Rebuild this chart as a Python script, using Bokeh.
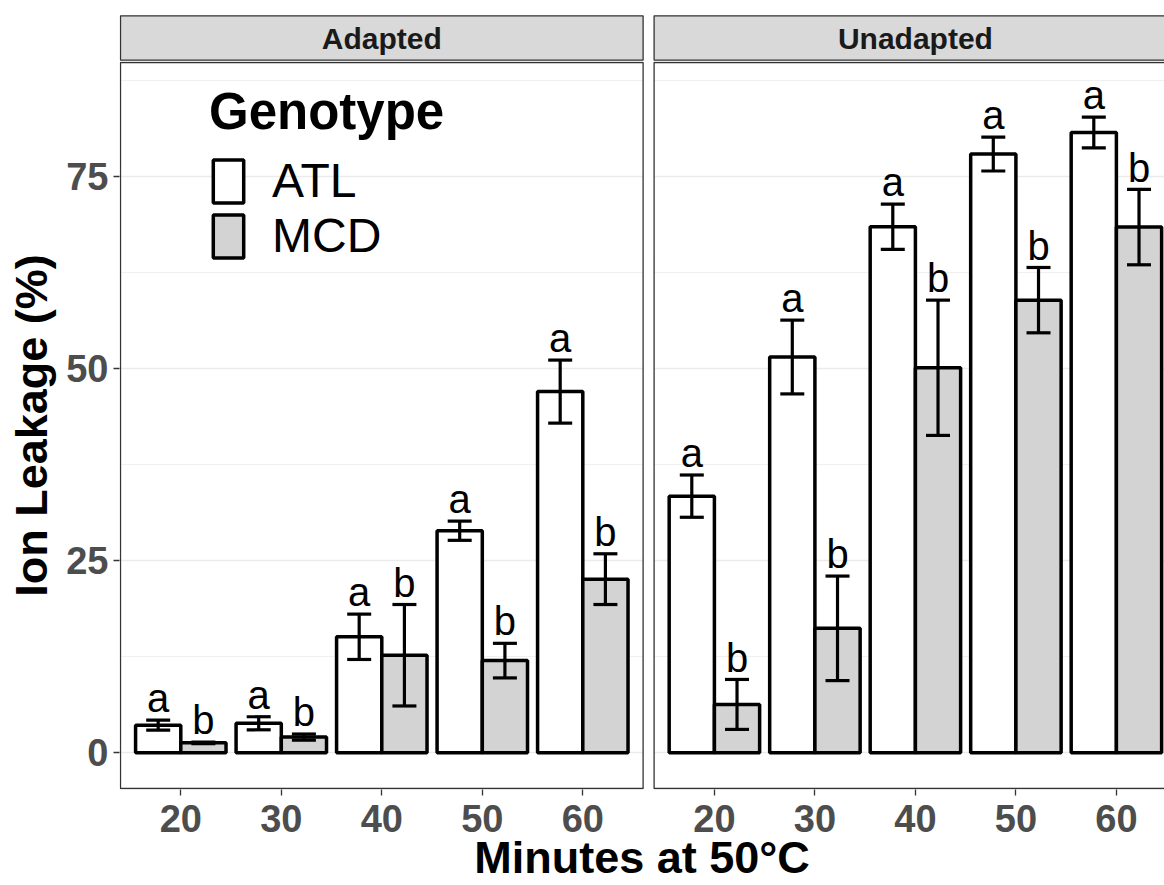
from bokeh.plotting import figure
from bokeh.models import (Range1d, FixedTicker, ColumnDataSource, Whisker, TeeHead,
                          Legend, LegendItem)
from bokeh.layouts import column
from bokeh.core.properties import value
from bokeh.embed import file_html
from bokeh.resources import INLINE

# ---------------- data ----------------
minutes = ["20", "30", "40", "50", "60"]
facets = ["Adapted", "Unadapted"]
genotypes = ["ATL", "MCD"]

atl_adapted = [3.6, 3.85, 15.1, 28.9, 47.0]
atl_adapted_se = [0.65, 0.85, 2.95, 1.25, 4.1]
mcd_adapted = [1.3, 2.05, 12.7, 12.0, 22.6]
mcd_adapted_se = [0.1, 0.4, 6.6, 2.25, 3.3]

atl_unadapted = [33.4, 51.5, 68.45, 77.9, 80.7]
atl_unadapted_se = [2.75, 4.8, 2.95, 2.2, 2.0]
mcd_unadapted = [6.3, 16.2, 50.1, 58.9, 68.4]
mcd_unadapted_se = [3.25, 6.8, 8.8, 4.25, 4.9]

letters_atl = ["a", "a", "a", "a", "a"]
letters_mcd = ["b", "b", "b", "b", "b"]

y_ticks = [0, 25, 50, 75]
y_minor = [12.5, 37.5, 62.5, 87.5]

# ---------------- geometry ----------------
FONT = "Liberation Sans"
PX = 100.5                 # pixels per category unit
EXP = 0.6                  # discrete expansion
GAP = 11 / PX              # gap between facet panels
BAR_W = 0.45
LETTER_PAD = 2.85          # letter baseline above the error bar top
n = len(minutes)
panel_w = (n - 1) + 2 * EXP
shift = panel_w + GAP

panel_left = [1 - EXP + k * shift for k in range(len(facets))]
panel_right = [pl + panel_w for pl in panel_left]
panel_center = [(a + b) / 2 for a, b in zip(panel_left, panel_right)]
centers = [[round(i + 1 + k * shift, 4) for i in range(n)] for k in range(len(facets))]

vals = {"ATL": [atl_adapted, atl_unadapted], "MCD": [mcd_adapted, mcd_unadapted]}
ses = {"ATL": [atl_adapted_se, atl_unadapted_se], "MCD": [mcd_adapted_se, mcd_unadapted_se]}
lets = {"ATL": letters_atl, "MCD": letters_mcd}
offs = {"ATL": -BAR_W / 2, "MCD": BAR_W / 2}
fills = {"ATL": "white", "MCD": "#D3D3D3"}


def make_source(g):
    d = dict(x=[], top=[], upper=[], lower=[], letter=[], ly=[])
    for k in range(len(facets)):
        for i in range(n):
            v = vals[g][k][i]
            e = ses[g][k][i]
            d["x"].append(centers[k][i] + offs[g])
            d["top"].append(v)
            d["upper"].append(v + e)
            d["lower"].append(v - e)
            d["letter"].append(lets[g][i])
            d["ly"].append(v + e + LETTER_PAD)
    return ColumnDataSource(d)


FRAME_W = 1164 - 119
x_start = 1 - EXP - 1 / PX
x_range = Range1d(x_start, x_start + FRAME_W / PX)
y_range = Range1d(-(796 - 759) / 7.76, (759 - 61) / 7.76)

# ---------------- strip figure ----------------
s = figure(width=1164, height=61, x_range=x_range, y_range=Range1d(-0.03, 1.03),
           output_backend="svg", toolbar_location=None,
           x_axis_location=None, y_axis_location=None,
           min_border_left=119, min_border_right=0, min_border_top=14, min_border_bottom=0,
           outline_line_color=None)
s.grid.visible = False
s.quad(left=panel_left, right=panel_right, bottom=0, top=1,
       fill_color="#D9D9D9", line_color="#333333", line_width=1.3)
s.text(x=panel_center, y=[0.5] * len(facets), text=facets,
       text_font=value(FONT), text_font_style="bold", text_font_size="30px",
       text_color="#1A1A1A", text_align="center", text_baseline="middle")

# ---------------- main figure ----------------
p = figure(width=1164, height=824, x_range=x_range, y_range=y_range,
           output_backend="svg", toolbar_location=None,
           min_border_left=119, min_border_right=0, min_border_top=0, min_border_bottom=89,
           outline_line_color=None, background_fill_color="white")

p.xgrid.visible = False
p.ygrid.ticker = FixedTicker(ticks=y_ticks, minor_ticks=y_minor)
p.ygrid.grid_line_color = "#EBEBEB"
p.ygrid.grid_line_width = 1.3
p.ygrid.minor_grid_line_color = "#F0F0F0"
p.ygrid.minor_grid_line_width = 1.0

# white gap between panels
p.quad(left=[panel_right[0]], right=[panel_left[1]], bottom=[-50], top=[150],
       fill_color="white", line_color=None)

renderers = {}
for g in genotypes:
    src = make_source(g)
    renderers[g] = p.vbar(x="x", top="top", bottom=0, width=BAR_W, source=src,
                          fill_color=fills[g], line_color="black", line_width=3.5)
    p.add_layout(Whisker(source=src, base="x", upper="upper", lower="lower",
                         level="annotation",
                         line_color="black", line_width=3.2,
                         upper_head=TeeHead(size=24, line_color="black", line_width=3.2),
                         lower_head=TeeHead(size=24, line_color="black", line_width=3.2)))
    p.text(x="x", y="ly", text="letter", source=src,
           text_font=value(FONT), text_font_size="40px", text_color="black",
           text_align="center", text_baseline="alphabetic")

# panel borders
p.quad(left=panel_left, right=panel_right,
       bottom=[-(795 - 759) / 7.76] * 2, top=[(759 - 62) / 7.76] * 2,
       fill_color=None, line_color="#333333", line_width=1.3)

# axes
all_centers = centers[0] + centers[1]
p.xaxis.ticker = FixedTicker(ticks=all_centers)
p.xaxis.major_label_overrides = {c: minutes[i % n] for i, c in enumerate(all_centers)}
p.yaxis.ticker = FixedTicker(ticks=y_ticks)
for ax in (p.xaxis[0], p.yaxis[0]):
    ax.axis_line_color = None
    ax.major_tick_line_color = "#333333"
    ax.major_tick_line_width = 1.3
    ax.major_tick_out = 6
    ax.major_tick_in = 0
    ax.minor_tick_line_color = None
    ax.major_label_text_font = FONT
    ax.major_label_text_font_style = "bold"
    ax.major_label_text_font_size = "38px"
    ax.major_label_text_color = "#4D4D4D"
    ax.axis_label_text_font = FONT
    ax.axis_label_text_font_style = "bold"
    ax.axis_label_text_font_size = "45px"
    ax.axis_label_text_color = "black"
p.xaxis.axis_label = "Minutes at 50°C"
p.yaxis.axis_label = "Ion Leakage (%)"
p.xaxis.major_label_standoff = 9
p.xaxis.axis_label_standoff = -3
p.yaxis.major_label_standoff = 5
p.yaxis.axis_label_standoff = 6

legend = Legend(items=[LegendItem(label=g, renderers=[renderers[g]]) for g in genotypes],
                title="Genotype", location=(90, 526), orientation="vertical",
                title_text_font=FONT, title_text_font_size="51px",
                title_text_font_style="bold", title_text_color="black",
                label_text_font=FONT, label_text_font_size="48px", label_text_color="black",
                glyph_width=38, glyph_height=54, label_standoff=25, spacing=0,
                padding=0, margin=0, title_standoff=12,
                background_fill_alpha=0, border_line_color=None)
p.add_layout(legend)

layout = column(s, p)
open("out.html", "w").write(file_html(layout, INLINE))
